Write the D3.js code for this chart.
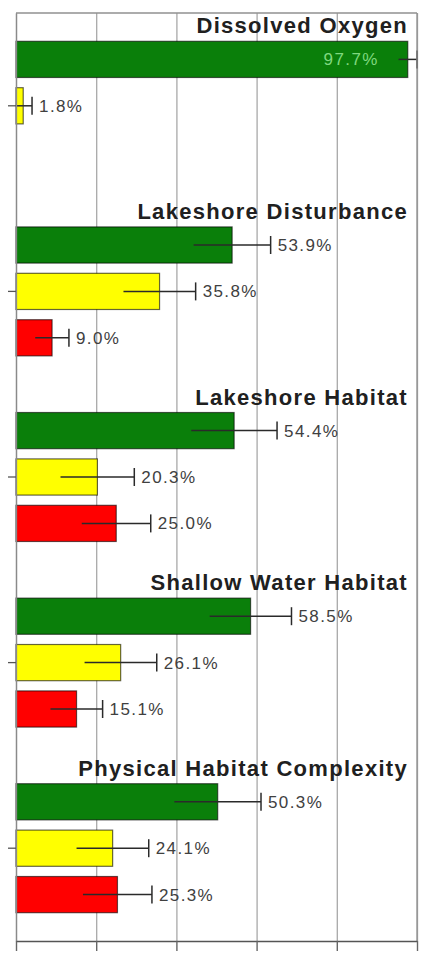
<!DOCTYPE html>
<html>
<head>
<meta charset="utf-8">
<script src="https://cdn.jsdelivr.net/npm/d3@7"></script>
<style>
  html, body { margin: 0; padding: 0; background: #fff; }
  svg { display: block; }
</style>
</head>
<body>
<svg id="chart" width="442" height="958"></svg>
<script>
// Indicator categories (one cluster each)
const categories = [
  "Dissolved Oxygen",
  "Lakeshore Disturbance",
  "Lakeshore Habitat",
  "Shallow Water Habitat",
  "Physical Habitat Complexity"
];

// Condition classes drawn inside every cluster
const conditionClasses = ["Good", "Fair", "Poor"];
const classColors = ["#0a7f0a", "#ffff00", "#ff0000"];

// Percent of lakes in each class (null = no bar)
const goodPct = [97.7, 53.9, 54.4, 58.5, 50.3];
const fairPct = [1.8, 35.8, 20.3, 26.1, 24.1];
const poorPct = [null, 9.0, 25.0, 15.1, 25.3];

// Error margins (percentage points)
const goodErr = [2.3, 9.6, 10.7, 10.2, 10.8];
const fairErr = [2.2, 9.0, 9.2, 9.0, 9.0];
const poorErr = [null, 4.2, 8.6, 6.5, 8.6];

// Percent axis ticks
const xTicks = [0, 20, 40, 60, 80, 100];

const svg = d3.select("#chart");
const W = 442, H = 958;
const margin = { top: 13, right: 25, bottom: 17, left: 16 };
const plotW = W - margin.left - margin.right;
const plotH = H - margin.top - margin.bottom;

const g = svg.append("g").attr("transform", `translate(${margin.left},${margin.top})`);

const x = d3.scaleLinear().domain([0, 100]).range([0, plotW]);
const y0 = d3.scaleBand().domain(categories).range([0, plotH]).paddingInner(0).paddingOuter(0);
const bw = y0.bandwidth();
const y1 = d3.scaleBand().domain(conditionClasses)
  .range([bw * 0.125, bw * 0.875])
  .paddingInner(0.22).paddingOuter(0.11);
const color = d3.scaleOrdinal().domain(conditionClasses).range(classColors);

const valuesByClass = { Good: goodPct, Fair: fairPct, Poor: poorPct };
const errByClass = { Good: goodErr, Fair: fairErr, Poor: poorErr };

const rows = [];
categories.forEach((cat, i) => {
  conditionClasses.forEach(cls => {
    const v = valuesByClass[cls][i];
    if (v == null) return;
    rows.push({ cat, cls, value: v, err: errByClass[cls][i] });
  });
});

// Vertical gridlines
g.append("g")
  .attr("class", "grid")
  .call(d3.axisBottom(x).tickValues(xTicks).tickSize(plotH).tickFormat(""))
  .call(s => s.select(".domain").remove())
  .call(s => s.selectAll("line").attr("stroke", "#a8a8a8").attr("stroke-width", 1.3));

// Top frame line
g.append("line")
  .attr("x1", 0).attr("x2", plotW).attr("y1", 0).attr("y2", 0)
  .attr("stroke", "#909090").attr("stroke-width", 1.3);

// Bars
const barG = g.append("g").attr("class", "bars");
barG.selectAll("rect")
  .data(rows)
  .join("rect")
  .attr("x", x(0))
  .attr("y", d => y0(d.cat) + y1(d.cls))
  .attr("width", d => x(d.value) - x(0))
  .attr("height", y1.bandwidth())
  .attr("fill", d => color(d.cls))
  .attr("stroke", "#000")
  .attr("stroke-opacity", 0.6)
  .attr("stroke-width", 1.2);

// Error bars: line from low to high, cap on the high end
const errG = g.append("g").attr("class", "errors");
const capH = 18;
rows.forEach(d => {
  const cy = y0(d.cat) + y1(d.cls) + y1.bandwidth() / 2;
  const lo = Math.max(0, d.value - d.err);
  const hi = Math.min(100, d.value + d.err);
  errG.append("line")
    .attr("x1", x(lo)).attr("x2", x(hi)).attr("y1", cy).attr("y2", cy)
    .attr("stroke", "#2a2a2a").attr("stroke-width", 1.5);
  errG.append("line")
    .attr("x1", x(hi)).attr("x2", x(hi))
    .attr("y1", cy - capH / 2).attr("y2", cy + capH / 2)
    .attr("stroke", "#2a2a2a").attr("stroke-width", 1.5);
});

// Value labels
const labelG = g.append("g").attr("class", "labels")
  .attr("font-family", "'Liberation Sans', Arial, sans-serif")
  .attr("font-size", 17);
rows.forEach(d => {
  const cy = y0(d.cat) + y1(d.cls) + y1.bandwidth() / 2;
  const hi = Math.min(100, d.value + d.err);
  const txt = d.value.toFixed(1) + "%";
  const outside = x(hi) + 7 + 60 < plotW;
  labelG.append("text")
    .attr("x", outside ? x(hi) + 7 : x(d.value) - 29)
    .attr("y", cy + 6)
    .attr("text-anchor", outside ? "start" : "end")
    .attr("letter-spacing", 1.4)
    .attr("fill", outside ? "#404040" : "#7fd87f")
    .text(txt);
});

// Cluster titles, right aligned above the first bar
g.append("g").attr("class", "titles")
  .selectAll("text")
  .data(categories)
  .join("text")
  .attr("x", plotW - 9)
  .attr("y", d => y0(d) + y1(conditionClasses[0]) - 8)
  .attr("text-anchor", "end")
  .attr("font-family", "'Liberation Sans', Arial, sans-serif")
  .attr("font-weight", "bold")
  .attr("font-size", 22)
  .attr("letter-spacing", 1.3)
  .attr("fill", "#202020")
  .text(d => d);

// Right frame line
g.append("line")
  .attr("x1", plotW).attr("x2", plotW).attr("y1", 0).attr("y2", plotH)
  .attr("stroke", "#909090").attr("stroke-width", 1.3);

// Category axis (left): ticks at cluster centres
g.append("g")
  .call(d3.axisLeft(y0).tickSize(8).tickSizeOuter(0).tickFormat(""))
  .call(s => s.select(".domain").attr("stroke", "#8a8a8a").attr("stroke-width", 1.3))
  .call(s => s.selectAll(".tick line").attr("stroke", "#555").attr("stroke-width", 1.3));

// Percent axis (bottom)
g.append("g")
  .attr("transform", `translate(0,${plotH})`)
  .call(d3.axisBottom(x).tickValues(xTicks).tickSize(10).tickSizeOuter(0).tickFormat(""))
  .call(s => s.select(".domain").attr("stroke", "#555").attr("stroke-width", 1.5))
  .call(s => s.selectAll(".tick line").attr("stroke", "#666").attr("stroke-width", 1.4));
</script>
</body>
</html>
